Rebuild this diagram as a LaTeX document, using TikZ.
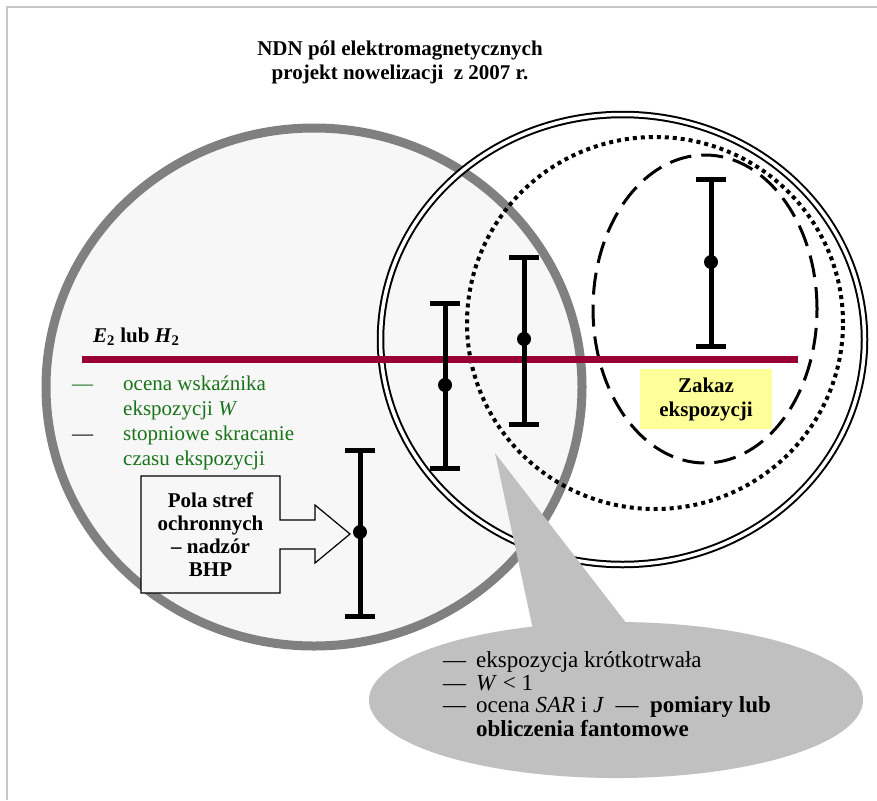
\documentclass[tikz,border=0pt]{standalone}
\usepackage{fontspec}
\setmainfont{Liberation Serif}
\usetikzlibrary{shapes.callouts}
\definecolor{ringgray}{RGB}{128,128,128}
\definecolor{ringfill}{RGB}{247,247,247}
\definecolor{bordeaux}{RGB}{153,0,51}
\definecolor{leafgreen}{RGB}{25,115,25}
\definecolor{calloutgray}{RGB}{192,192,192}
\definecolor{pale}{RGB}{255,255,153}

\begin{document}
\begin{tikzpicture}[x=1pt,y=-1pt,
  frame/.style={draw=black!22,line width=2pt},
  zone/.style={draw=ringgray,fill=ringfill,line width=9pt},
  rim/.style={draw=black,double=white,line width=2pt,double distance=3.5pt},
  dotrim/.style={draw=black,line width=4pt,dash pattern=on 4pt off 4pt},
  dashrim/.style={draw=black,line width=3pt,dash pattern=on 22pt off 10pt},
  level/.style={draw=bordeaux,line width=7pt},
  bar/.style={line width=5pt},
  vertex/.style={circle,fill=black,minimum size=14pt,inner sep=0pt,outer sep=0pt},
  txt/.style={anchor=base west,inner sep=0pt,font=\fontsize{21}{25}\selectfont},
  greentxt/.style={txt,text=leafgreen},
  calltxt/.style={anchor=base west,inner sep=0pt,font=\fontsize{23}{23}\selectfont},
  boxtxt/.style={align=center,inner sep=0pt,font=\fontsize{21}{23}\selectfont\bfseries},
  box/.style={draw=black,fill=ringfill,line width=1.2pt},
  zakaz/.style={fill=pale,minimum width=132pt,minimum height=60pt,align=center,inner sep=0pt,font=\fontsize{21}{25}\selectfont\bfseries},
  callout/.style={shape=ellipse callout,fill=calloutgray,minimum width=494pt,minimum height=156pt,inner sep=0pt,callout pointer arc=22}]
          \useasboundingbox (0,0) rectangle (877,800);
          \draw[frame] (7,800) -- (7,7) -- (877,7);
          \node[align=center,inner sep=0pt,font=\fontsize{21}{24}\selectfont\bfseries] (title) at (400,62) {NDN pól elektromagnetycznych\\projekt nowelizacji\ \ z 2007 r.};
          \draw[zone] (314,387) ellipse [x radius=268pt,y radius=259pt];
          \draw[rim] (622.5,339.5) ellipse [x radius=242pt,y radius=225pt];
          \draw[dotrim] (655,323) ellipse [x radius=188pt,y radius=186pt];
          \draw[dashrim] (705,309) ellipse [x radius=112pt,y radius=154pt];
          \coordinate (levelL) at (82,359);
          \coordinate (levelR) at (798,359);
          \draw[level] (levelL) -- (levelR);
          \node[txt] (eh) at (93,342) {\textbf{\textit{E}\textsubscript{2} lub \textit{H}\textsubscript{2}}};
          \node[greentxt] (d1) at (72,390) {—};
          \node[greentxt] (g1) at (123,390) {ocena wskaźnika};
          \node[greentxt] (g2) at (123,415) {ekspozycji \textit{W}};
          \node[txt] (d2) at (72,440) {—};
          \node[greentxt] (g3) at (123,440) {stopniowe skracanie};
          \node[greentxt] (g4) at (123,465) {czasu ekspozycji};
          \coordinate (aT) at (445,303);
          \coordinate (aB) at (445,468);
          \coordinate (bT) at (524,257);
          \coordinate (bB) at (524,424);
          \coordinate (cT) at (360,450);
          \coordinate (cB) at (360,616);
          \coordinate (dT) at (711,179);
          \coordinate (dB) at (711,346);
          \draw[bar] (aT) -- (aB);
          \draw[bar] ([xshift=-15pt]aT) -- ([xshift=15pt]aT);
          \draw[bar] ([xshift=-15pt]aB) -- ([xshift=15pt]aB);
          \draw[bar] (bT) -- (bB);
          \draw[bar] ([xshift=-15pt]bT) -- ([xshift=15pt]bT);
          \draw[bar] ([xshift=-15pt]bB) -- ([xshift=15pt]bB);
          \draw[bar] (cT) -- (cB);
          \draw[bar] ([xshift=-15pt]cT) -- ([xshift=15pt]cT);
          \draw[bar] ([xshift=-15pt]cB) -- ([xshift=15pt]cB);
          \draw[bar] (dT) -- (dB);
          \draw[bar] ([xshift=-15pt]dT) -- ([xshift=15pt]dT);
          \draw[bar] ([xshift=-15pt]dB) -- ([xshift=15pt]dB);
          \node[vertex] (a) at (445,385) {};
          \node[vertex] (b) at (524,339) {};
          \node[vertex] (c) at (360,532) {};
          \node[vertex] (d) at (711,262) {};
          \node[zakaz] (ban) at (706,399) {\raisebox{-3pt}{\begin{tabular}{@{}c@{}}Zakaz\\[-1pt]ekspozycji\end{tabular}}};
          \coordinate (tipC) at (350,534);
          \draw[box] (141,476) -- (280,476) -- (280,520) -- (315,520) -- (315,505) -- (tipC) -- (315,563) -- (315,549) -- (280,549) -- (280,593) -- (141,593) -- cycle
            node[boxtxt] (pola) at (210.5,534.5) {Pola stref\\ochronnych\\– nadzór\\BHP};
          \node[callout,callout absolute pointer={(495,453)}] (note) at (616,700) {};
          \node[calltxt] (n1) at (443,667) {—};
          \node[calltxt] (m1) at (476,667) {ekspozycja krótkotrwała};
          \node[calltxt] (n2) at (443,690) {—};
          \node[calltxt] (m2) at (476,690) {\textit{W} < 1};
          \node[calltxt] (n3) at (443,712) {—};
          \node[calltxt] (m3) at (476,712) {ocena \textit{SAR} i \textit{J} \ — \ \textbf{pomiary lub}};
          \node[calltxt] (m4) at (476,736) {\textbf{obliczenia fantomowe}};
        \end{tikzpicture}
\end{document}
